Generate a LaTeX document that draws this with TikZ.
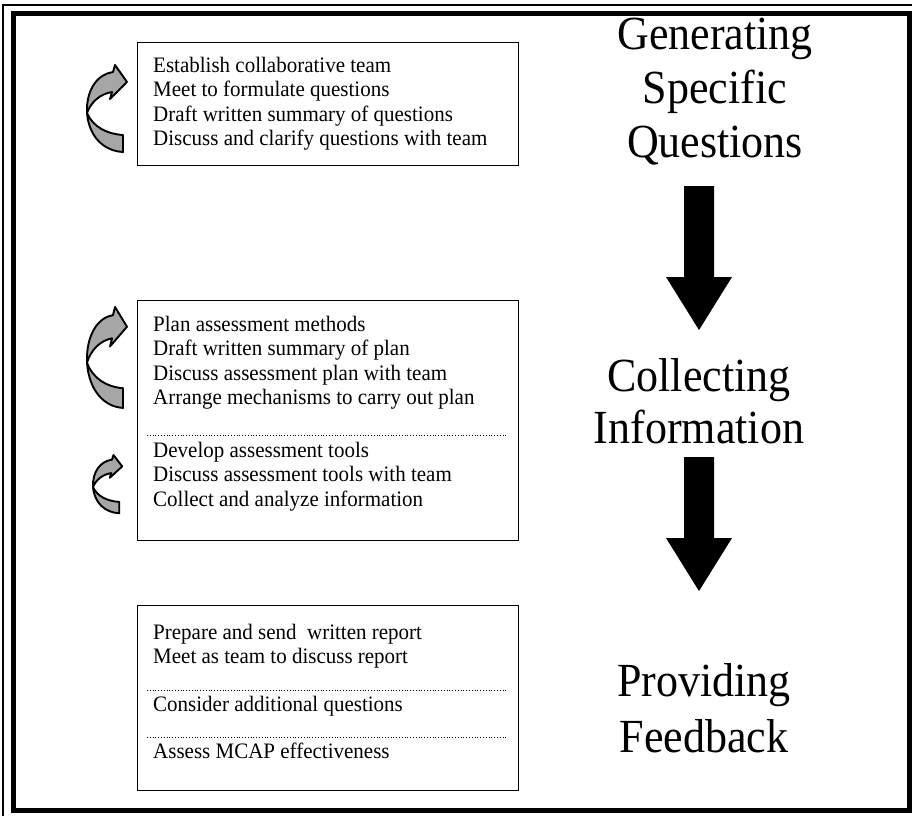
\documentclass[tikz,border=0pt]{standalone}
\usepackage{fontspec}
\usepackage{graphicx}
\setmainfont{Liberation Serif}
% curved grey "repeat" arrow: #1 = shift, #2 = xscale, #3 = yscale
\newcommand\loopglyph[3]{%
  \begin{scope}[shift={#1}, xscale=#2, yscale=#3]
    \filldraw[loop] (0,48) .. controls (2,72) and (17,86) .. (36,87) -- (36,70)
      .. controls (20,69) and (6,62) .. (0,48) -- cycle;
    \filldraw[loop] (0,48) .. controls (-1,24) and (11,9) .. (26,7) -- (28,0)
      -- (40,17) -- (23,34) -- (25,27) .. controls (13,29) and (4,37) .. (0,48) -- cycle;
  \end{scope}}
% text slightly stretched vertically
\newcommand\stagetext[1]{\scalebox{1}[1.08]{#1}}
\newcommand\steptext[1]{\scalebox{1}[1.05]{#1}}
\begin{document}
\begin{tikzpicture}[x=1pt, y=-1pt,
  item/.style={anchor=base west, inner sep=0pt, font=\fontsize{21}{25}\selectfont},
  title/.style={anchor=base, inner sep=0pt, font=\fontsize{44}{52}\selectfont},
  panel/.style={draw, line width=1pt, anchor=north west, minimum width=381pt},
  sep/.style={dotted, line width=0.8pt},
  loop/.style={draw=black, line width=1.9pt, fill=black!35, line join=round},
  down/.style={fill=black}]
\useasboundingbox (0,0) rectangle (912,816);

% double frame
\draw[line width=1.2pt] (3,816) -- (3,5) -- (912,5);
\draw[line width=5pt] (13,14) rectangle (909,810);

% stage 1
\node[panel, minimum height=123pt] (qbox) at (137,42) {};
\node[item] (q1) at (153,72) {\steptext{Establish collaborative team}};
\node[item] (q2) at (153,96.5) {\steptext{Meet to formulate questions}};
\node[item] (q3) at (153,121) {\steptext{Draft written summary of questions}};
\node[item] (q4) at (153,145.5) {\steptext{Discuss and clarify questions with team}};
\loopglyph{(87,65)}{1}{1}

% stage 2
\node[panel, minimum height=240pt] (cbox) at (137,300) {};
\node[item] (c1) at (153,331) {\steptext{Plan assessment methods}};
\node[item] (c2) at (153,355.5) {\steptext{Draft written summary of plan}};
\node[item] (c3) at (153,380) {\steptext{Discuss assessment plan with team}};
\node[item] (c4) at (153,404.5) {\steptext{Arrange mechanisms to carry out plan}};
\coordinate (cs1) at (147,435);
\coordinate (cs2) at (508,435);
\draw[sep] (cs1) -- (cs2);
\node[item] (c5) at (153,457) {\steptext{Develop assessment tools}};
\node[item] (c6) at (153,481.5) {\steptext{Discuss assessment tools with team}};
\node[item] (c7) at (153,506) {\steptext{Collect and analyze information}};
\loopglyph{(87,307)}{1}{1.16}
\loopglyph{(93,455)}{0.73}{0.67}

% stage 3
\node[panel, minimum height=185pt] (fbox) at (137,605) {};
\node[item] (f1) at (153,639) {\steptext{Prepare and send\ \ written report}};
\node[item] (f2) at (153,663.5) {\steptext{Meet as team to discuss report}};
\coordinate (fs1) at (147,690);
\coordinate (fs2) at (508,690);
\draw[sep] (fs1) -- (fs2);
\node[item] (f3) at (153,711) {\steptext{Consider additional questions}};
\coordinate (fs3) at (147,737);
\coordinate (fs4) at (508,737);
\draw[sep] (fs3) -- (fs4);
\node[item] (f4) at (153,758) {\steptext{Assess MCAP effectiveness}};

% stage titles
\node[title] (g1) at (715,50) {\stagetext{Generating}};
\node[title] (g2) at (715,103) {\stagetext{Specific}};
\node[title] (g3) at (715,157) {\stagetext{Questions}};
\node[title] (k1) at (699,391) {\stagetext{Collecting}};
\node[title] (k2) at (699,443) {\stagetext{Information}};
\node[title] (p1) at (704,696) {\stagetext{Providing}};
\node[title] (p2) at (704,752) {\stagetext{Feedback}};

% block arrows between stages
\fill[down] (684,186) -- (714,186) -- (714,277) -- (732,277) -- (699,330)
  -- (666,277) -- (684,277) -- cycle;
\fill[down] (684,457) -- (714,457) -- (714,538) -- (732,538) -- (699,591)
  -- (666,538) -- (684,538) -- cycle;
\end{tikzpicture}
\end{document}
